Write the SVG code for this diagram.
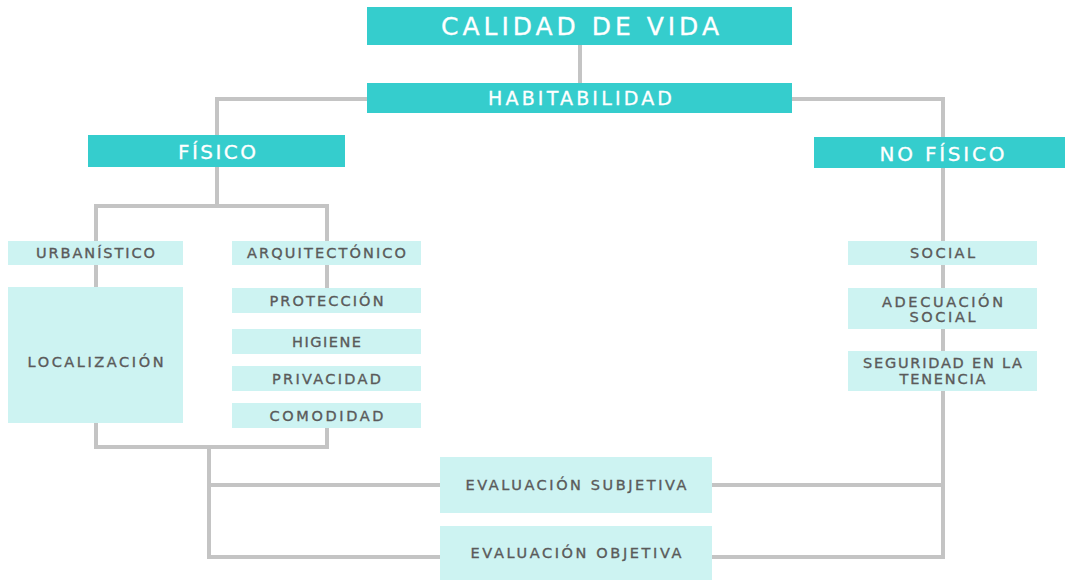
<svg xmlns="http://www.w3.org/2000/svg" width="1065" height="580" viewBox="0 0 1065 580">
<style>
.c{fill:none;stroke:#c4c4c4;stroke-width:4;stroke-linejoin:miter;stroke-linecap:square}
.t{fill:#35cdcd}
.l{fill:#cdf3f2}
.tw{fill:#ffffff;stroke:#ffffff;stroke-width:0.3;font-family:"DejaVu Sans","Liberation Sans",sans-serif;text-anchor:middle}
.tg{fill:#5a5a5a;stroke:#5a5a5a;stroke-width:0.35;font-family:"DejaVu Sans","Liberation Sans",sans-serif;font-size:14.5px;text-anchor:middle}
</style>
<rect width="1065" height="580" fill="#ffffff"/>
<g id="connectors">
<path class="c" d="M580 45 V83"/>
<path class="c" d="M367 99 H217 V136"/>
<path class="c" d="M792 99 H943 V137"/>
<path class="c" d="M217 167 V204"/>
<path class="c" d="M96 241 V206 H327 V241"/>
<path class="c" d="M96 265 V288"/>
<path class="c" d="M327 265 V288"/>
<path class="c" d="M96 423 V447 H327 V428"/>
<path class="c" d="M209 447 V557 H440"/>
<path class="c" d="M209 485 H440"/>
<path class="c" d="M712 485 H943"/>
<path class="c" d="M712 557 H943 V168"/>
</g>
<g id="calidad"><rect class="t" x="367" y="7" width="425" height="38"/><text class="tw" x="580" y="35" font-size="25" textLength="278" lengthAdjust="spacing">CALIDAD DE VIDA</text></g>
<g id="habitabilidad"><rect class="t" x="367" y="83" width="425" height="30"/><text class="tw" x="580" y="105" font-size="19" textLength="184" lengthAdjust="spacing">HABITABILIDAD</text></g>
<g id="fisico"><rect class="t" x="88" y="135" width="257" height="32"/><text class="tw" x="217" y="158.5" font-size="20" textLength="78" lengthAdjust="spacing">FÍSICO</text></g>
<g id="nofisico"><rect class="t" x="814" y="137" width="251" height="31"/><text class="tw" x="942" y="160.5" font-size="20" textLength="125" lengthAdjust="spacing">NO FÍSICO</text></g>
<g id="urbanistico"><rect class="l" x="8" y="241" width="175" height="24"/><text class="tg" x="95.5" y="258" textLength="119" lengthAdjust="spacing">URBANÍSTICO</text></g>
<g id="arquitectonico"><rect class="l" x="232" y="241" width="189" height="24"/><text class="tg" x="326.5" y="258" textLength="159" lengthAdjust="spacing">ARQUITECTÓNICO</text></g>
<g id="localizacion"><rect class="l" x="8" y="287" width="175" height="136"/><text class="tg" x="95.5" y="367" textLength="136" lengthAdjust="spacing">LOCALIZACIÓN</text></g>
<g id="proteccion"><rect class="l" x="232" y="288" width="189" height="25"/><text class="tg" x="326.5" y="306" textLength="114" lengthAdjust="spacing">PROTECCIÓN</text></g>
<g id="higiene"><rect class="l" x="232" y="329" width="189" height="25"/><text class="tg" x="326.5" y="347" textLength="69" lengthAdjust="spacing">HIGIENE</text></g>
<g id="privacidad"><rect class="l" x="232" y="366" width="189" height="25"/><text class="tg" x="326.5" y="384" textLength="109" lengthAdjust="spacing">PRIVACIDAD</text></g>
<g id="comodidad"><rect class="l" x="232" y="403" width="189" height="25"/><text class="tg" x="326.5" y="421" textLength="114" lengthAdjust="spacing">COMODIDAD</text></g>
<g id="social"><rect class="l" x="848" y="241" width="189" height="24"/><text class="tg" x="942.5" y="258" textLength="65" lengthAdjust="spacing">SOCIAL</text></g>
<g id="adecuacion"><rect class="l" x="848" y="288" width="189" height="41"/><text class="tg" x="942.5" y="307" textLength="121" lengthAdjust="spacing">ADECUACIÓN</text><text class="tg" x="942.5" y="322" textLength="66" lengthAdjust="spacing">SOCIAL</text></g>
<g id="seguridad"><rect class="l" x="848" y="351" width="189" height="40"/><text class="tg" x="942.5" y="368" textLength="159" lengthAdjust="spacing">SEGURIDAD EN LA</text><text class="tg" x="942.5" y="384" textLength="86" lengthAdjust="spacing">TENENCIA</text></g>
<g id="subjetiva"><rect class="l" x="440" y="457" width="272" height="56"/><text class="tg" x="576" y="490" textLength="221" lengthAdjust="spacing">EVALUACIÓN SUBJETIVA</text></g>
<g id="objetiva"><rect class="l" x="440" y="526" width="272" height="54"/><text class="tg" x="576" y="558" textLength="211" lengthAdjust="spacing">EVALUACIÓN OBJETIVA</text></g>
</svg>
